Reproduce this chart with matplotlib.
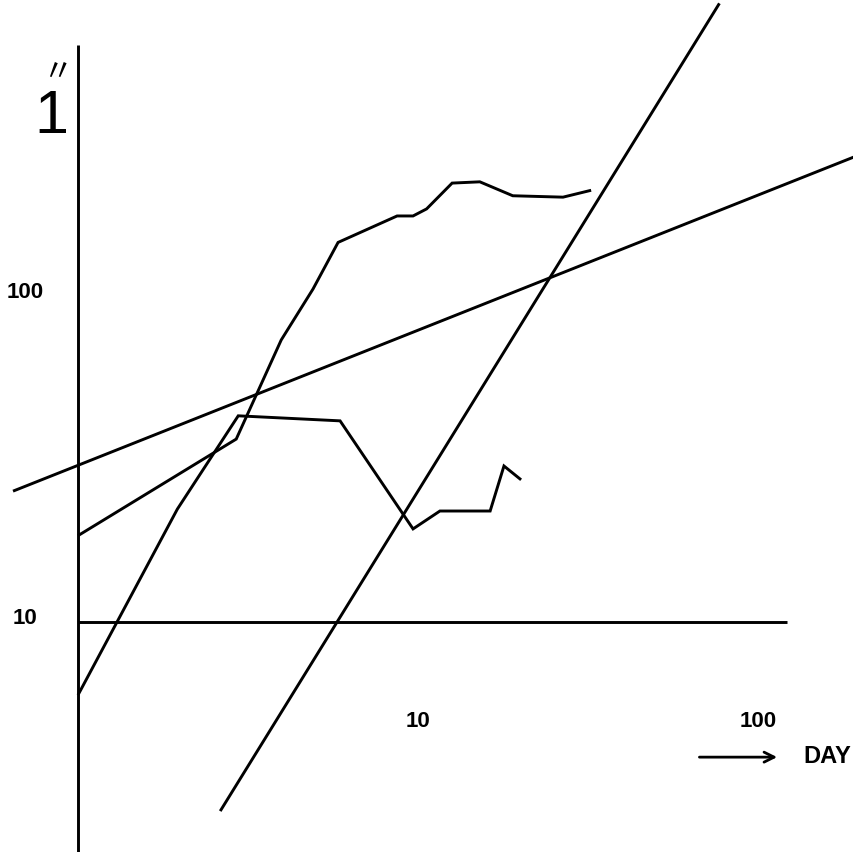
import numpy as np
import matplotlib
matplotlib.use("Agg")
import matplotlib.pyplot as plt

# ---- data (log-log) ----
# curve starting low, plateau then drop
low_x = [1.0, 1.96, 2.96, 5.9, 9.67, 11.6, 16.3, 17.9, 20.1]
low_y = [5.97, 22.2, 42.9, 41.4, 19.3, 21.9, 21.9, 30.1, 27.3]

# curve rising to the top
high_x = [1.0, 2.92, 3.96, 4.91, 5.82, 8.68, 9.67, 10.6, 12.6, 15.2, 19.0, 26.7, 32.3]
high_y = [18.4, 36.4, 73.3, 105, 146, 176, 176, 185, 222, 224, 203, 201, 211]

# straight reference lines (end points)
steep_x = [2.62, 77.0]
steep_y = [2.63, 790.0]
shallow_x = [0.644, 191.6]
shallow_y = [25.2, 267.0]

# base line at 10 and the vertical axis
base_x = [1.0, 121.7]
base_y = [10.0, 10.0]
axis_x = [1.0, 1.0]
axis_y = [1.5, 590.0]

ytick_vals = [100, 10]
ytick_labels = ["100", "10"]
xtick_vals = [10, 100]
xtick_labels = ["10", "100"]

# ---- layout: figure pixels -> log coordinates ----
W, H = 854, 853
X0_PX, X_DEC = 78, 340      # x=1 at px 78, 340 px per decade
Y10_PX, Y_DEC = 623, 326    # y=10 at px 623, 326 px per decade

xlim = (10 ** (-X0_PX / X_DEC), 10 ** ((W - X0_PX) / X_DEC))
ylim = (10 ** (1 - (H - Y10_PX) / Y_DEC), 10 ** (1 + Y10_PX / Y_DEC))

fig = plt.figure(figsize=(W / 100, H / 100), dpi=100)
ax = fig.add_axes([0, 0, 1, 1])
ax.set_xscale("log")
ax.set_yscale("log")
ax.set_xlim(*xlim)
ax.set_ylim(*ylim)
ax.axis("off")

kw = dict(color="black", lw=2.1, solid_capstyle="butt", solid_joinstyle="miter")
ax.plot(axis_x, axis_y, **kw)
ax.plot(base_x, base_y, **kw)
ax.plot(steep_x, steep_y, **kw)
ax.plot(shallow_x, shallow_y, **kw)
ax.plot(low_x, low_y, **kw)
ax.plot(high_x, high_y, **kw)

font = dict(family="Liberation Sans", fontweight="bold", fontsize=16, color="black")
for v, s in zip(ytick_vals, ytick_labels):
    ax.text(0.70, v * 1.03, s, ha="center", va="center", **font)
for v, s in zip(xtick_vals, xtick_labels):
    ax.text(v, 5.0, s, ha="center", va="center", **font)

# axis caption: ditto mark and "1"
ax.text(0.87, 490, "〃", ha="center", va="center", fontsize=22,
        family=["Noto Sans CJK JP", "DejaVu Sans"], color="black")
ax.text(0.835, 355, "1", ha="center", va="center", fontsize=44,
        family="Liberation Sans", color="black")

# DAY arrow
ax.annotate("", xy=(116, 3.85), xytext=(66, 3.85),
            arrowprops=dict(arrowstyle="->", lw=2, color="black",
                            mutation_scale=18))
ax.text(136, 3.9, "DAY", ha="left", va="center", **dict(font, fontsize=17))

plt.savefig("out.png", dpi=100)
plt.close()
